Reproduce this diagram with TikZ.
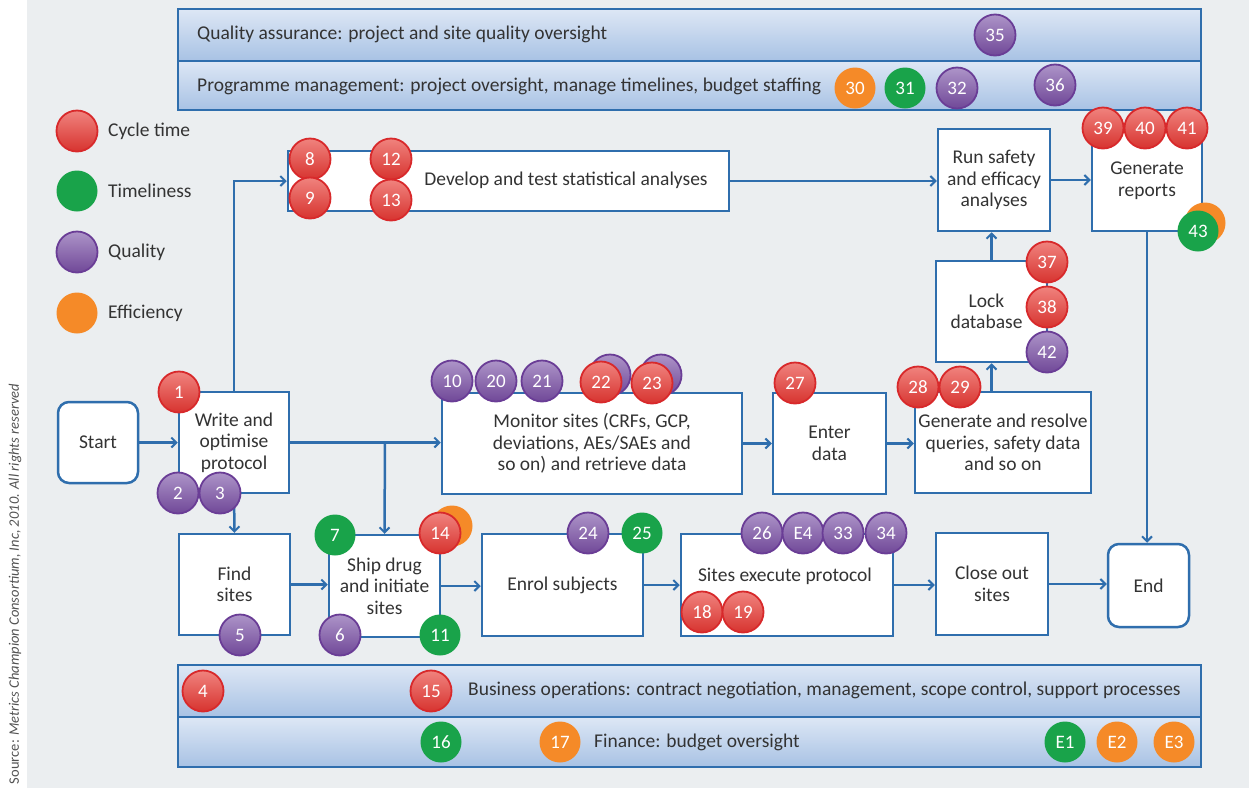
\documentclass[tikz,border=0pt]{standalone}
\usepackage{fontspec}
\setmainfont{Carlito}
\usetikzlibrary{arrows.meta}
\definecolor{bl}{HTML}{2F6EAD}
\definecolor{bgc}{HTML}{EBEEF0}
\definecolor{txt}{HTML}{333333}
\definecolor{bartop}{HTML}{DDE7F5}
\definecolor{barbot}{HTML}{A8C2E4}
\definecolor{rtop}{HTML}{F0837E}
\definecolor{rbot}{HTML}{D7332F}
\definecolor{rdr}{HTML}{D8292B}
\definecolor{ptop}{HTML}{AD94C8}
\definecolor{pbot}{HTML}{704898}
\definecolor{pdr}{HTML}{6A3D96}
\definecolor{grn}{HTML}{19A34A}
\definecolor{org}{HTML}{F58A28}
\tikzset{
  stepbox/.style={draw=bl, line width=2.5pt, fill=white, inner sep=0pt, align=center, text=txt, font=\fontsize{19.5}{21.5}\selectfont},
  roundbox/.style={stepbox, rounded corners=11pt},
  bar/.style={draw=bl, line width=2.5pt, top color=bartop, bottom color=barbot},
  bartext/.style={anchor=west, text=txt, font=\fontsize{19.5}{21.5}\selectfont, inner sep=0pt},
  arr/.style={draw=bl, line width=2.5pt, -{Straight Barb[length=5pt,width=10pt,line width=2pt]}},
  circ/.style={circle, minimum size=41pt, inner sep=0pt, text=white, font=\fontsize{19}{19}\selectfont},
  redc/.style={circ, shade, top color=rtop, bottom color=rbot, draw=rdr, line width=1.8pt},
  purc/.style={circ, shade, top color=ptop, bottom color=pbot, draw=pdr, line width=1.8pt},
  grnc/.style={circ, fill=grn},
  orgc/.style={circ, fill=org},
  legtext/.style={anchor=west, text=txt, font=\fontsize{19.5}{21.5}\selectfont, inner sep=0pt}
}
\begin{document}
\begin{tikzpicture}[x=1pt,y=-1pt]
\useasboundingbox (0,0) rectangle (1249,788);
\fill[bgc] (27,0) rectangle (1249,788);
\node[rotate=90, text=txt!85, font=\fontsize{14.5}{16}\selectfont] (src) at (15,584) {Source: \textit{Metrics Champion Consortium, Inc, 2010. All rights reserved}};

% bars
\path[bar] (178,9) rectangle (1201,61);
\path[bar] (178,61) rectangle (1201,110);
\path[bar] (178,665) rectangle (1201,717);
\path[bar] (178,717) rectangle (1201,767);
\node[bartext] (qa) at (197,34) {Quality assurance: project and site quality oversight};
\node[bartext] (pm) at (197,86) {Programme management: project oversight, manage timelines, budget staffing};
\node[bartext] (bo) at (468,690) {Business operations: contract negotiation, management, scope control, support processes};
\node[bartext] (fi) at (594,742) {Finance: budget oversight};

% legend
\node[redc] (l1) at (77,131) {};
\node[grnc] (l2) at (77,191) {};
\node[purc] (l3) at (77,252) {};
\node[orgc] (l4) at (77,313) {};
\node[legtext] (lt1) at (108,131) {Cycle time};
\node[legtext] (lt2) at (108,191) {Timeliness};
\node[legtext] (lt3) at (108,252) {Quality};
\node[legtext] (lt4) at (108,313) {Efficiency};

% boxes
\node[roundbox, minimum width=80pt, minimum height=81pt] (start) at (98,442.5) {Start};
\node[stepbox, minimum width=110pt, minimum height=101pt] (write) at (234,442.5) {Write and\\optimise\\protocol};
\node[stepbox, minimum width=441pt, minimum height=60pt] (develop) at (508.5,181) {};
\node[bartext, anchor=center] (devtxt) at (566,180) {Develop and test statistical analyses};
\node[stepbox, minimum width=112pt, minimum height=102pt] (run) at (994,180) {Run safety\\and efficacy\\analyses};
\node[stepbox, minimum width=110pt, minimum height=101pt] (genrep) at (1147,180.5) {Generate\\reports};
\node[stepbox, minimum width=111pt, minimum height=101pt] (lock) at (991.5,311.5) {\hspace*{-10pt}Lock\\\hspace*{-10pt}database};
\node[stepbox, minimum width=176pt, minimum height=101pt] (genres) at (1003,442.5) {Generate and resolve\\queries, safety data\\and so on};
\node[stepbox, minimum width=300pt, minimum height=101pt] (monitor) at (592,443.5) {Monitor sites (CRFs, GCP,\\deviations, AEs/SAEs and\\so on) and retrieve data};
\node[stepbox, minimum width=113pt, minimum height=101pt] (enter) at (829.5,443.5) {Enter\\data};
\node[stepbox, minimum width=111pt, minimum height=101pt] (find) at (234.5,584.5) {Find\\sites};
\node[stepbox, minimum width=111pt, minimum height=102pt] (ship) at (384.5,586) {Ship drug\\and initiate\\sites};
\node[stepbox, minimum width=161pt, minimum height=102pt] (enrol) at (562.5,585) {Enrol subjects};
\node[stepbox, minimum width=212pt, minimum height=102pt] (sites) at (787,585) {};
\node[bartext, anchor=center] (sitestxt) at (785,576) {Sites execute protocol};
\node[stepbox, minimum width=112pt, minimum height=102pt] (close) at (992,584) {Close out\\sites};
\node[roundbox, minimum width=81pt, minimum height=83pt] (end) at (1148.5,585.5) {End};

% connectors
\draw[arr] (start) -- (write);
\draw[arr] (write.north) |- (develop.west);
\draw[arr] (write.east) -- (write.east -| monitor.west);
\coordinate (br) at (385,442.5);
\draw[arr] (br) -- (ship.north);
\draw[arr] (write.south) -- (find.north);
\draw[arr] (find.east) -- (find.east -| ship.west);
\draw[arr] (ship.east) -- (ship.east -| enrol.west);
\draw[arr] (enrol.east) -- (enrol.east -| sites.west);
\draw[arr] (sites.east) -- (sites.east -| close.west);
\draw[arr] (close.east) -- (close.east -| end.west);
\draw[arr] (monitor.east) -- (monitor.east -| enter.west);
\draw[arr] (enter.east) -- (enter.east -| genres.west);
\draw[arr] (lock.south |- genres.north) -- (lock.south);
\draw[arr] (lock.north) -- (lock.north |- run.south);
\draw[arr] (develop.east) -- (develop.east -| run.west);
\draw[arr] (run.east) -- (run.east -| genrep.west);
\draw[arr] (genrep.south) -- (genrep.south |- end.north);

% circles: top bars
\node[purc] (c35) at (995,35) {35};
\node[orgc] (c30) at (855,88) {30};
\node[grnc] (c31) at (905,88) {31};
\node[purc] (c32) at (957,88) {32};
\node[purc] (c36) at (1055,85) {36};
% develop
\node[redc] (c8) at (310,159) {8};
\node[redc] (c9) at (310,198) {9};
\node[redc] (c12) at (391,159) {12};
\node[redc] (c13) at (391,200) {13};
% write
\node[redc] (c1) at (179,392) {1};
\node[purc] (c2) at (178,493) {2};
\node[purc] (c3) at (220,493) {3};
% find
\node[purc] (c5) at (240,635) {5};
% ship
\node[grnc] (c7) at (335,535) {7};
\node[orgc] (c14b) at (452,526) {};
\node[redc] (c14) at (440,533) {14};
\node[purc] (c6) at (340,635) {6};
\node[grnc] (c11) at (440,635) {11};
% monitor
\node[purc] (c10) at (452,381) {10};
\node[purc] (c20) at (496,381) {20};
\node[purc] (c21) at (542,381) {21};
\node[purc] (c22b) at (610,375) {};
\node[redc] (c22) at (601,382) {22};
\node[purc] (c23b) at (661,375) {};
\node[redc] (c23) at (652,383) {23};
% enter
\node[redc] (c27) at (795,383) {27};
% genres
\node[redc] (c28) at (918,387) {28};
\node[redc] (c29) at (960,387) {29};
% lock
\node[redc] (c37) at (1047,262) {37};
\node[redc] (c38) at (1047,307) {38};
\node[purc] (c42) at (1047,352) {42};
% genrep
\node[redc] (c39) at (1103,128) {39};
\node[redc] (c40) at (1145,128) {40};
\node[redc] (c41) at (1187,128) {41};
\node[orgc] (c43b) at (1205,223) {};
\node[grnc] (c43) at (1198,231) {43};
% enrol
\node[purc] (c24) at (588,533) {24};
\node[grnc] (c25) at (642,533) {25};
% sites
\node[purc] (c26) at (762,533) {26};
\node[purc] (cE4) at (803,533) {E4};
\node[purc] (c33) at (843,533) {33};
\node[purc] (c34) at (886,533) {34};
\node[redc] (c18) at (702,612) {18};
\node[redc] (c19) at (743,612) {19};
% bottom bars
\node[redc] (c4) at (203,691) {4};
\node[redc] (c15) at (431,691) {15};
\node[grnc] (c16) at (441,742) {16};
\node[orgc] (c17) at (560,742) {17};
\node[grnc] (cE1) at (1065,742) {E1};
\node[orgc] (cE2) at (1117,742) {E2};
\node[orgc] (cE3) at (1174,742) {E3};
\end{tikzpicture}
\end{document}
